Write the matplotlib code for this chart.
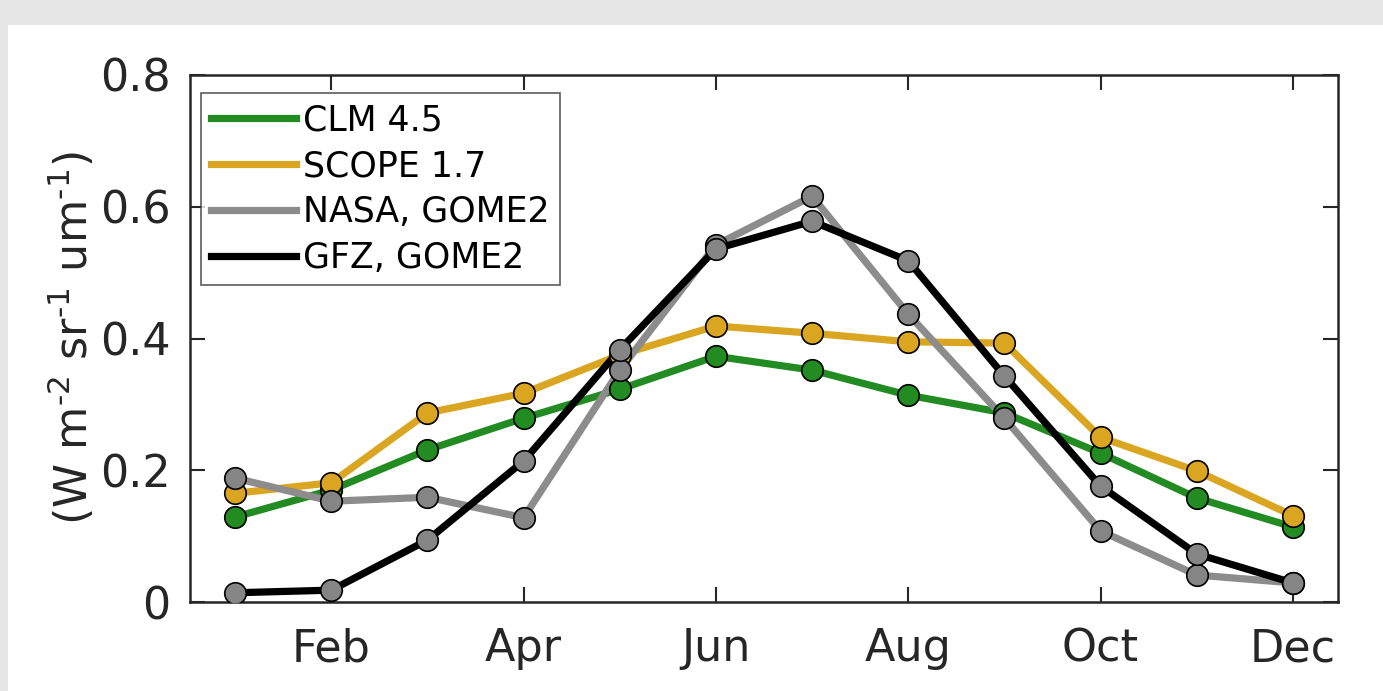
import matplotlib.pyplot as plt
from matplotlib.patches import Rectangle

months = [1, 2, 3, 4, 5, 6, 7, 8, 9, 10, 11, 12]
tick_pos = [2, 4, 6, 8, 10, 12]
tick_labels = ['Feb', 'Apr', 'Jun', 'Aug', 'Oct', 'Dec']

clm = [0.129, 0.170, 0.231, 0.279, 0.323, 0.373, 0.352, 0.314, 0.287, 0.226, 0.158, 0.114]
scope = [0.165, 0.181, 0.287, 0.317, 0.375, 0.419, 0.408, 0.395, 0.393, 0.250, 0.199, 0.131]
nasa = [0.188, 0.153, 0.159, 0.128, 0.352, 0.542, 0.616, 0.437, 0.279, 0.108, 0.041, 0.029]
gfz = [0.014, 0.018, 0.094, 0.214, 0.383, 0.536, 0.578, 0.518, 0.343, 0.176, 0.073, 0.029]

txt = '#262626'
plt.rcParams['font.family'] = 'DejaVu Sans'

fig = plt.figure(figsize=(13.83, 6.91), dpi=100)
fig.patch.set_facecolor('#e6e6e6')
fig.patches.append(Rectangle((8 / 1383, 0), 1, 1 - 25 / 691, transform=fig.transFigure,
                             facecolor='white', edgecolor='none', zorder=-10))

ax = fig.add_axes([190 / 1383, 1 - 602 / 691, (1338 - 190) / 1383, (602 - 75) / 691])

series = [
    (clm, '#228b22', '#228b22', 'CLM 4.5'),
    (scope, '#daa520', '#daa520', 'SCOPE 1.7'),
    (nasa, '#8c8c8c', '#858585', 'NASA, GOME2'),
    (gfz, 'black', '#858585', 'GFZ, GOME2'),
]
handles = []
for vals, lc, mc, lab in series:
    ax.plot(months, vals, color=lc, lw=5.2, zorder=2)
    ax.plot(months, vals, ls='none', marker='o', ms=15.5, mfc=mc, mec='black', mew=1.2, zorder=3)
    h, = ax.plot([], [], color=lc, lw=5.2, label=lab)
    handles.append(h)

ax.set_xlim(0.53, 12.47)
ax.set_ylim(0, 0.8)
ax.set_xticks(tick_pos)
ax.set_xticklabels(tick_labels)
ax.set_yticks([0, 0.2, 0.4, 0.6, 0.8])
ax.set_yticklabels(['0', '0.2', '0.4', '0.6', '0.8'])
ax.tick_params(direction='in', length=11, width=1.5, top=True, right=True,
               labelsize=32, colors=txt)
ax.tick_params(axis='x', pad=18)
ax.tick_params(axis='y', pad=14)
for s in ax.spines.values():
    s.set_color(txt)
    s.set_linewidth(1.8)

ax.set_ylabel(r'(W m$^{\text{-}2}$ sr$^{\text{-}1}$ um$^{\text{-}1}$)', fontsize=32,
              color=txt, labelpad=2)

leg = ax.legend(handles=handles, loc='upper left', bbox_to_anchor=(11 / 1148, 1 - 18 / 527),
                fontsize=25, frameon=True, fancybox=False, edgecolor='#333333',
                handlelength=2.45, handletextpad=0.2, labelspacing=0.34,
                borderpad=0.3, borderaxespad=0)
leg.get_frame().set_linewidth(1.2)
for t in leg.get_texts():
    t.set_color('black')

fig.savefig('out.png', dpi=100, facecolor=fig.get_facecolor())
